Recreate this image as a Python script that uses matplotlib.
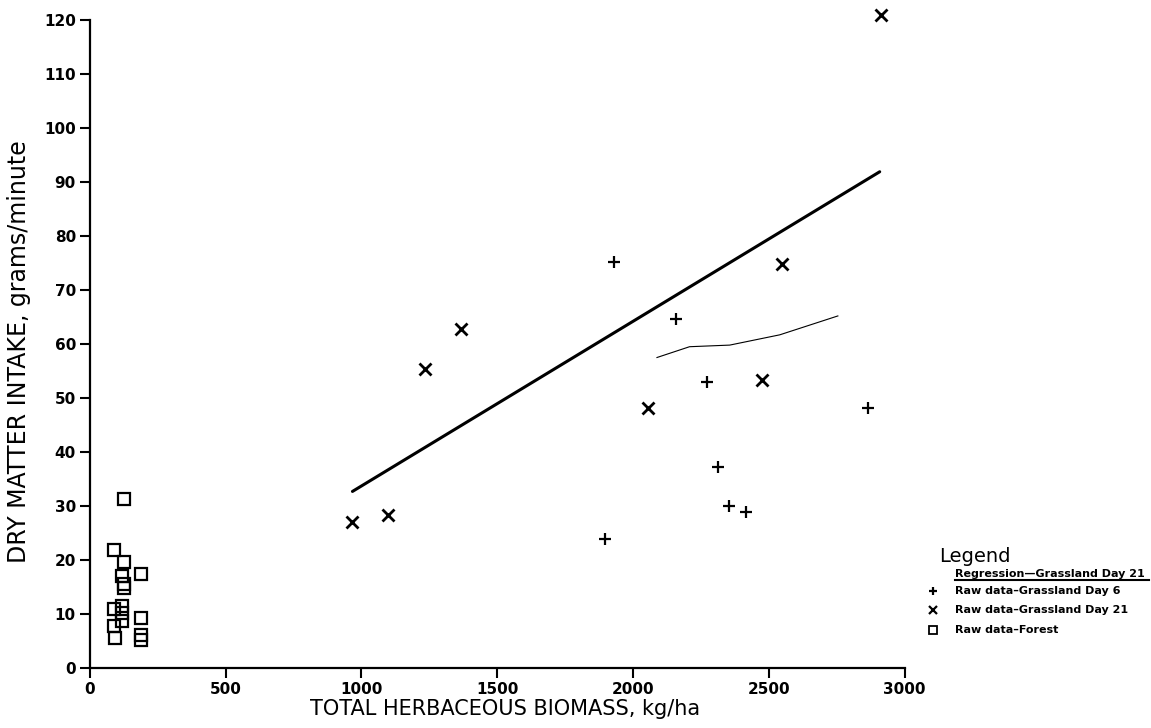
import matplotlib.pyplot as plt
from matplotlib.lines import Line2D

# Raw data - Forest
forest_biomass = [126, 90, 126, 118, 126, 126, 190, 88, 118, 118, 118, 90, 92, 190, 190, 190]
forest_intake = [31.3, 21.8, 19.6, 17.0, 15.6, 14.8, 17.4, 11.0, 11.4, 10.1, 8.7, 7.8, 5.6, 9.3, 6.2, 5.1]

# Raw data - Grassland Day 6
day6_biomass = [1929, 2159, 2272, 2865, 2313, 2353, 2417, 1898]
day6_intake = [75.1, 64.6, 52.9, 48.1, 37.3, 30.0, 28.8, 23.8]

# Raw data - Grassland Day 21
day21_biomass = [2914, 2548, 1366, 1235, 2476, 2055, 1098, 967]
day21_intake = [120.9, 74.9, 62.8, 55.4, 53.3, 48.2, 28.3, 27.0]

# Regression - Grassland Day 21
reg_biomass = [967, 2908]
reg_intake = [32.7, 91.9]

# faint hand-drawn trace
trace_biomass = [2088, 2208, 2356, 2540, 2754]
trace_intake = [57.5, 59.5, 59.8, 61.7, 65.2]

fig = plt.figure(figsize=(11.51, 7.28), dpi=100)
ax = fig.add_axes([0.078, 0.0824, 0.708, 0.8901])

ax.plot(reg_biomass, reg_intake, color='black', lw=2.2, solid_capstyle='round')
ax.plot(trace_biomass, trace_intake, color='black', lw=0.8)
ax.plot(forest_biomass, forest_intake, 's', ms=8, mfc='none', mec='black', mew=1.6, clip_on=False)
ax.plot(day6_biomass, day6_intake, '+', ms=9, mec='black', mew=1.6, clip_on=False)
ax.plot(day21_biomass, day21_intake, 'x', ms=8, mec='black', mew=2.0, clip_on=False)

ax.set_xlim(0, 3000)
ax.set_ylim(0, 120)
ax.set_xticks(range(0, 3001, 500))
ax.set_yticks(range(0, 121, 10))
for s in ['top', 'right']:
    ax.spines[s].set_visible(False)
for s in ['left', 'bottom']:
    ax.spines[s].set_linewidth(1.6)
ax.tick_params(length=7, width=1.5, labelsize=11, pad=3)
for lab in ax.get_xticklabels() + ax.get_yticklabels():
    lab.set_fontweight('bold')

ax.set_xlabel('TOTAL HERBACEOUS BIOMASS, kg/ha', fontsize=15)
ax.set_ylabel('DRY MATTER INTAKE, grams/minute', fontsize=17)
ax.xaxis.set_label_coords(0.51, -0.048)
ax.yaxis.set_label_coords(-0.072, 0.488)

# legend drawn by hand beside the axes
fig.text(0.816, 0.228, 'Legend', fontsize=14)
fig.text(0.830, 0.207, 'Regression\u2014Grassland Day 21', fontsize=8, fontweight='bold')
fig.add_artist(Line2D([0.830, 0.998], [0.203, 0.203], color='black', lw=1.5,
                      transform=fig.transFigure))
items = [('+', 'Raw data\u2013Grassland Day 6', 1.6),
         ('x', 'Raw data\u2013Grassland Day 21', 1.6),
         ('s', 'Raw data\u2013Forest', 1.3)]
for i, (m, txt, mw) in enumerate(items):
    yy = 0.188 - i * 0.0265
    fig.add_artist(Line2D([0.811], [yy], marker=m, ms=5.5, mfc='none', mec='black',
                          mew=mw, transform=fig.transFigure))
    fig.text(0.830, yy, txt, fontsize=8, fontweight='bold', va='center')

fig.savefig('out.png', dpi=100)
